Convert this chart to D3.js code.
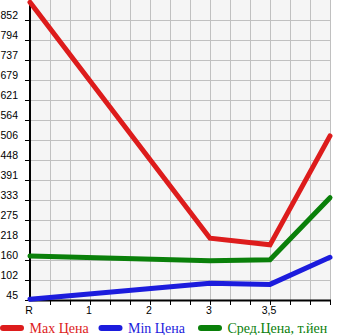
<!DOCTYPE html>
<html><head><meta charset="utf-8">
<script src="https://cdn.jsdelivr.net/npm/d3@7"></script>
<style>body{margin:0;background:#fff}svg{display:block}</style>
</head><body>
<svg id="c" width="345" height="335"></svg>
<script>
const categories = ["R","1","2","3","3,5",""];
const yTicks = [45,102,160,218,275,333,391,448,506,564,621,679,737,794,852];
// values at category index (null = no point)
const maxPrice = [903, null, null, 223, 204, 518];
const minPrice = [47, null, null, 93, 90, 168];
const avgPrice = [172, null, null, 158, 161, 340];
const seriesNames = ["Max Цена","Min Цена","Сред.Цена, т.йен"];
const seriesColors = ["#dd1c1c","#1c1cdd","#0a800a"];

const svg = d3.select("#c");
const L=30, R=330, T=0, B=300;
const x = d3.scaleLinear().domain([0,5]).range([L,R]);
const step = (852-45)/14;
const y = d3.scaleLinear().domain([45, 852+step]).range([B,T]);

svg.append("rect").attr("x",L).attr("y",T).attr("width",R-L).attr("height",B-T).attr("fill","#f5f5f5");
// grid
const vgrid = d3.range(0,5.0001,1/3);
svg.append("g").selectAll("line").data(vgrid).join("line")
  .attr("x1",d=>x(d)).attr("x2",d=>x(d)).attr("y1",T).attr("y2",B)
  .attr("stroke","#c0c0c0").attr("stroke-width",1).attr("shape-rendering","crispEdges");
svg.append("g").selectAll("line").data(yTicks.map((d,i)=>45+i*step)).join("line")
  .attr("x1",L).attr("x2",R).attr("y1",d=>y(d)).attr("y2",d=>y(d))
  .attr("stroke","#c0c0c0").attr("stroke-width",1).attr("shape-rendering","crispEdges");

// y axis
const yAxis = svg.append("g");
yAxis.append("line").attr("x1",L).attr("x2",L).attr("y1",T).attr("y2",B+1).attr("stroke","#000").attr("stroke-width",2);
yAxis.selectAll("line.t").data(yTicks.map((d,i)=>45+i*step)).join("line").attr("class","t")
  .attr("x1",L-5).attr("x2",L).attr("y1",d=>Math.round(y(d))+0.5).attr("y2",d=>Math.round(y(d))+0.5).attr("stroke","#000");
yAxis.selectAll("text").data(yTicks).join("text")
  .attr("x",18).attr("y",(d,i)=>y(45+i*step)-4).attr("text-anchor","end").attr("dominant-baseline","middle")
  .attr("font-family","Liberation Sans, Arial, sans-serif").attr("font-size",10.5).attr("fill","#000").text(d=>d);

// x axis
const xAxis = svg.append("g");
xAxis.append("line").attr("x1",L-1).attr("x2",R+1).attr("y1",B+0.5).attr("y2",B+0.5).attr("stroke","#000").attr("stroke-width",2);
xAxis.selectAll("line.t").data(vgrid.slice(1)).join("line").attr("class","t")
  .attr("x1",d=>Math.round(x(d))+0.5).attr("x2",d=>Math.round(x(d))+0.5).attr("y1",B).attr("y2",B+5).attr("stroke","#000");
xAxis.selectAll("text").data(categories).join("text")
  .attr("x",(d,i)=>x(i)-1).attr("y",B+14).attr("text-anchor","middle")
  .attr("font-family","Liberation Sans, Arial, sans-serif").attr("font-size",10.5).attr("fill","#000").text(d=>d);

// lines
const line = d3.line().x(d=>x(d[0])).y(d=>y(d[1]));
[maxPrice,minPrice,avgPrice].forEach((s,k)=>{
  const pts = s.map((v,i)=>[i,v]).filter(p=>p[1]!==null);
  svg.append("path").attr("d",line(pts)).attr("fill","none").attr("stroke",seriesColors[k])
    .attr("stroke-width",5).attr("stroke-linejoin","miter").attr("stroke-linecap","round");
});

// legend
const legX = [3, 101.5, 201];
const lg = svg.append("g");
seriesNames.forEach((n,k)=>{
  lg.append("line").attr("x1",legX[k]).attr("x2",legX[k]+18).attr("y1",328).attr("y2",328)
    .attr("stroke",seriesColors[k]).attr("stroke-width",6).attr("stroke-linecap","round");
  lg.append("text").attr("x",legX[k]+26.5).attr("y",332.5).attr("fill",seriesColors[k])
    .attr("font-family","Liberation Serif, Times New Roman, serif").attr("font-size",14).text(n);
});
</script>
</body></html>
